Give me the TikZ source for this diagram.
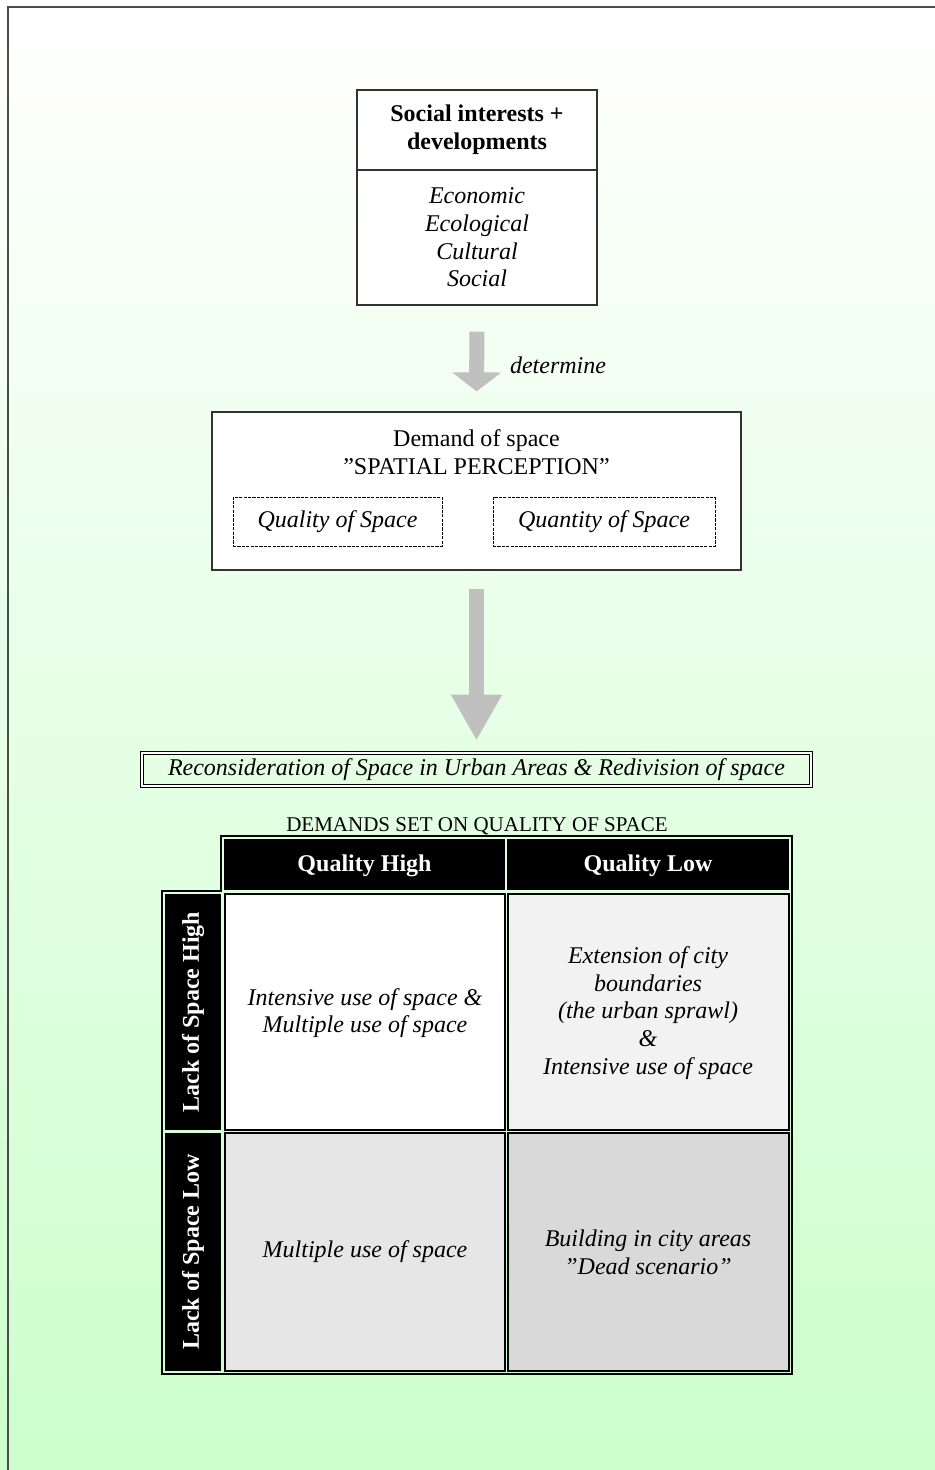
\documentclass[tikz,border=0pt]{standalone}
\usepackage{fontspec}
\setmainfont{Liberation Serif}
\usetikzlibrary{arrows.meta}
\definecolor{bggreen}{RGB}{204,255,204}
\definecolor{arrowgray}{RGB}{192,192,192}
\definecolor{cellA}{RGB}{242,242,242}
\definecolor{cellB}{RGB}{230,230,230}
\definecolor{cellC}{RGB}{217,217,217}
\newcommand{\txt}{\fontsize{12pt}{13.8pt}\selectfont}
\tikzset{
  box/.style={draw=black!80, fill=white, line width=0.6pt, inner sep=0pt, align=center, font=\txt},
  dashbox/.style={draw=black, line width=0.5pt, dash pattern=on 1.6pt off 0.6pt, inner sep=0pt, font=\txt\itshape},
  dblbox/.style={draw=black, line width=0.45pt, double=white, double distance=1pt, inner sep=0pt, font=\txt\itshape},
  label/.style={align=center, inner sep=0pt, font=\txt},
  bigarrow/.style={draw=arrowgray, line width=7.5pt},
  headcell/.style={fill=black},
  bodycell/.style={draw=black, line width=0.8pt},
  headtext/.style={text=white, font=\txt\bfseries, inner sep=0pt},
  celltext/.style={align=center, font=\txt\itshape, inner sep=0pt},
}
\begin{document}
\begin{tikzpicture}[x=0.5pt, y=-0.5pt]
  % page background and frame
  \useasboundingbox (0,0) rectangle (935,1470);
  \shade[top color=white, bottom color=bggreen] (0,0) rectangle (935,1470);
  \draw[line width=1pt, black!70] (8,1470) -- (8,7) -- (935,7);

  % social interests box
  \node[box, minimum width=120pt, minimum height=40pt] (b1top) at (477,130)
    {\bfseries Social interests +\\\bfseries developments};
  \node[box, minimum width=120pt, minimum height=67.5pt] (b1bot) at (477,237.5)
    {\itshape Economic\\\itshape Ecological\\\itshape Cultural\\\itshape Social};

  % demand of space box
  \node[box, minimum width=264.5pt, minimum height=79pt] (b2) at (476.5,491) {};
  \node[label] (b2title) at (476.5,452) {Demand of space\\”SPATIAL PERCEPTION”};
  \node[dashbox, minimum width=104.5pt, minimum height=24.5pt] (qual) at (337.5,521.5) {Quality of Space};
  \node[dashbox, minimum width=111pt, minimum height=24.5pt] (quan) at (604,521.5) {Quantity of Space};

  % reconsideration box
  \node[dblbox, minimum width=334.5pt, minimum height=16.5pt] (b3) at (476.5,769.5)
    {Reconsideration of Space in Urban Areas \& Redivision of space};

  % block arrows
  \draw[bigarrow, -{Triangle[width=24pt, length=9.5pt]}, shorten <=13pt, shorten >=10pt]
    (b1bot.south) -- (b2.north);
  \node[label, font=\txt\itshape] (det) at (558,365) {determine};
  \draw[bigarrow, -{Triangle[width=24pt, length=23pt]}, shorten <=9pt, shorten >=6pt]
    (b2.south) -- (b3.north);

  % matrix title
  \node[label, font=\fontsize{10.5pt}{12pt}\selectfont] (mtitle) at (477,826) {DEMANDS SET ON QUALITY OF SPACE};

  % matrix outline
  \draw[black, line width=0.6pt] (162,1374) -- (162,891) -- (221,891) -- (221,836) -- (792,836) -- (792,1374) -- cycle;

  % header cells
  \fill[headcell] (224,839) rectangle (505,890);
  \fill[headcell] (507,839) rectangle (789,890);
  \node[headtext] (hhigh) at (364.5,866) {Quality High};
  \node[headtext] (hlow) at (648,866) {Quality Low};

  % row label cells
  \fill[headcell] (165,894) rectangle (221,1130);
  \fill[headcell] (165,1133) rectangle (221,1371);
  \node[headtext, rotate=90] (rhigh) at (193,1012) {Lack of Space High};
  \node[headtext, rotate=90] (rlow) at (193,1252) {Lack of Space Low};

  % body cells
  \filldraw[bodycell, fill=white] (225,894) rectangle (505,1130);
  \filldraw[bodycell, fill=cellA] (508,894) rectangle (789,1130);
  \filldraw[bodycell, fill=cellB] (225,1133) rectangle (505,1371);
  \filldraw[bodycell, fill=cellC] (508,1133) rectangle (789,1371);

  \node[celltext] (t11) at (365,1013) {Intensive use of space \&\\Multiple use of space};
  \node[celltext] (t12) at (648,1013) {Extension of city\\boundaries\\(the urban sprawl)\\\&\\Intensive use of space};
  \node[celltext] (t21) at (365,1252) {Multiple use of space};
  \node[celltext] (t22) at (648,1252) {Building in city areas\\”Dead scenario”};
\end{tikzpicture}
\end{document}
